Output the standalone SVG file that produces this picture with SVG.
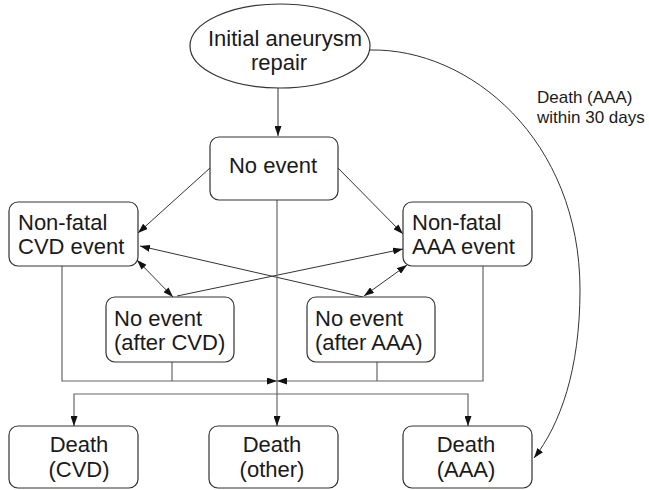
<svg xmlns="http://www.w3.org/2000/svg" width="649" height="490" viewBox="0 0 649 490">
<defs>
<style>
.box{fill:#fff;stroke:#333;stroke-width:1.2}
.t{font-family:"Liberation Sans",Arial,sans-serif;font-size:22px;fill:#1a1a1a}
.s{font-family:"Liberation Sans",Arial,sans-serif;font-size:17px;fill:#1a1a1a}
.c{fill:none;stroke:#333;stroke-width:1}
.g{fill:none;stroke:#666;stroke-width:1.2}
</style>
<marker id="arr" viewBox="0 0 10 7" refX="10" refY="3.5" markerWidth="10" markerHeight="7" markerUnits="userSpaceOnUse" orient="auto-start-reverse">
<path d="M0,0 L10,3.5 L0,7 z" fill="#111"/>
</marker>
</defs>
<g id="connectors">
<path class="c" d="M278,88 V136" marker-end="url(#arr)"/>
<path class="c" d="M210,168 L138,233" marker-end="url(#arr)"/>
<path class="c" d="M338,168 L403,234" marker-end="url(#arr)"/>
<path class="c" d="M363,297 L140,246" marker-end="url(#arr)"/>
<path class="c" d="M177,296 L403,249" marker-end="url(#arr)"/>
<path class="c" d="M137,260 L173,297" marker-start="url(#arr)" marker-end="url(#arr)"/>
<path class="c" d="M407,265 L364,296" marker-start="url(#arr)" marker-end="url(#arr)"/>
<path class="g" d="M277,200 V426" marker-end="url(#arr)"/>
<path class="g" d="M62,266 V381 H277" marker-end="url(#arr)"/>
<path class="g" d="M483,266 V381 H277" marker-end="url(#arr)"/>
<path class="g" d="M172,362 V381"/>
<path class="g" d="M377,362 V381"/>
<path class="g" d="M74,426 V394 H468 V426" marker-start="url(#arr)" marker-end="url(#arr)"/>
<path class="c" d="M370,50 C470,48 580,140 580,290 C580,370 560,425 534,458" marker-end="url(#arr)"/>
<text class="s" x="537" y="103">Death (AAA)</text>
<text class="s" x="537" y="123">within 30 days</text>
</g>
<g id="initial">
<ellipse class="box" cx="280" cy="46" rx="90" ry="42"/>
<text class="t" x="285" y="46" text-anchor="middle">Initial aneurysm</text>
<text class="t" x="279" y="70" text-anchor="middle">repair</text>
</g>
<g id="noevent">
<rect class="box" x="210" y="137" width="128" height="63" rx="9"/>
<text class="t" x="273" y="173" text-anchor="middle">No event</text>
</g>
<g id="cvd">
<rect class="box" x="9" y="202" width="129" height="64" rx="9"/>
<text class="t" x="18" y="230">Non-fatal</text>
<text class="t" x="18" y="254">CVD event</text>
</g>
<g id="aaa">
<rect class="box" x="403" y="202" width="129" height="64" rx="9"/>
<text class="t" x="412" y="230">Non-fatal</text>
<text class="t" x="412" y="254">AAA event</text>
</g>
<g id="aftercvd">
<rect class="box" x="106" y="297" width="128" height="65" rx="9"/>
<text class="t" x="114" y="326">No event</text>
<text class="t" x="114" y="350">(after CVD)</text>
</g>
<g id="afteraaa">
<rect class="box" x="307" y="297" width="128" height="65" rx="9"/>
<text class="t" x="315" y="326">No event</text>
<text class="t" x="315" y="350">(after AAA)</text>
</g>
<g id="deathcvd">
<rect class="box" x="9" y="426" width="129" height="62" rx="9"/>
<text class="t" x="79" y="452" text-anchor="middle">Death</text>
<text class="t" x="79" y="477" text-anchor="middle">(CVD)</text>
</g>
<g id="deathother">
<rect class="box" x="209" y="426" width="129" height="62" rx="9"/>
<text class="t" x="272" y="452" text-anchor="middle">Death</text>
<text class="t" x="272" y="477" text-anchor="middle">(other)</text>
</g>
<g id="deathaaa">
<rect class="box" x="403" y="426" width="129" height="62" rx="9"/>
<text class="t" x="466" y="452" text-anchor="middle">Death</text>
<text class="t" x="466" y="477" text-anchor="middle">(AAA)</text>
</g>
</svg>
